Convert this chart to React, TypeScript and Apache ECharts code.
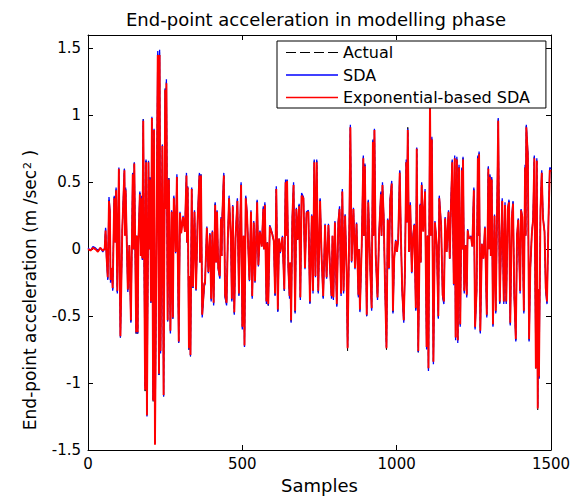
import React, { useEffect, useRef } from "react";
import * as echarts from "echarts";

const titleText = "End-point acceleration in modelling phase";
const xAxisName = "Samples";
const yAxisLabel = "{n|End-point acceleration (m /sec}{sup|2}{n| )}";
const legendNames = ["Actual", "SDA", "Exponential-based SDA"];
const xRange = [0, 1500];
const yRange = [-1.5, 1.6];

const samples = [
  0, 8, 16, 24, 32, 40, 48, 54, 57, 60, 64, 68, 71, 73, 77, 80, 85, 88, 91, 95,
  100, 105, 111, 118, 120, 122, 129, 134, 139, 145, 147, 150, 156, 158, 161, 163, 168, 171, 174, 176,
  179, 185, 188, 191, 196, 198, 201, 204, 207, 211, 214, 217, 221, 226, 230, 232, 235, 241, 245, 250,
  252, 254, 258, 262, 267, 271, 275, 278, 282, 284, 288, 294, 298, 302, 308, 314, 319, 321, 323, 327,
  329, 332, 336, 340, 345, 350, 355, 361, 363, 366, 370, 377,
  379, 385, 390, 395, 399, 403, 407, 412, 415, 418, 422, 427, 431, 433, 435, 440, 444, 449, 453, 457,
  463, 466, 469, 474, 478, 484, 489, 492, 496, 500, 504, 507, 511, 515, 520, 523, 528, 532, 537, 541,
  548, 552, 557, 563, 568, 570, 573, 578, 581, 584, 589, 593, 597, 602, 606, 610, 615, 619, 623, 630,
  636, 640, 642, 645, 649, 653, 655, 658, 662, 666, 671, 675, 679, 684, 688, 692, 698, 703, 708, 714,
  719, 725, 729, 733,
  737, 741, 746, 752, 757, 762, 768, 773, 779, 784, 789, 792, 795, 800, 806, 811, 815, 820, 824, 828,
  833, 838, 841, 847, 850, 854, 860, 865, 870, 876, 878, 881, 887, 892, 894, 897, 903, 908, 914, 919,
  923, 925, 928, 932, 938, 943, 949, 951, 954, 958, 962, 967, 971, 975, 979, 984, 988, 992, 997, 1001,
  1005, 1010, 1014, 1018, 1023, 1027, 1031, 1033, 1036, 1040, 1044, 1049, 1053, 1057, 1062,
  1065, 1070, 1076, 1078, 1081, 1086, 1092, 1097, 1100, 1103, 1108, 1111, 1114, 1119, 1124, 1130, 1135, 1138, 1144, 1149,
  1153, 1157, 1162, 1168, 1172, 1176, 1180, 1185, 1188, 1191, 1195, 1198, 1202, 1206, 1211, 1213, 1215, 1219, 1224, 1227,
  1230, 1234, 1241, 1245, 1250, 1254, 1259, 1263, 1265, 1267, 1271, 1276, 1281, 1286, 1292, 1297, 1299, 1302, 1305, 1308,
  1312, 1317, 1321, 1325, 1329, 1334, 1338, 1342, 1347, 1351, 1355, 1360, 1364, 1368, 1373, 1377, 1381, 1386, 1390, 1394,
  1400, 1403, 1407, 1412, 1416, 1418, 1420, 1425, 1429, 1433, 1438, 1442, 1446, 1451, 1454, 1457, 1459, 1461, 1466, 1470,
  1474, 1479, 1483, 1487, 1492, 1496, 1500,
];

const actual = [
  0, -0.01, 0.01, 0, -0.02, 0.01, -0.01, 0, 0.15, -0.05,
  -0.22, 0.37, 0.28, -0.24, -0.14, -0.3, 0.39, 0.05, 0.45, -0.32,
  0.6, -0.66, 0.14, 0.6, 0.1, 0.45, -0.31, 0.03, -0.54, 0.57,
  0.0, 0.65, -0.63, 0.1, -0.63, 0.03, 0.42, -0.05, 0.39, -0.07,
  0.97, -1.06, 0.66, -1.24, 0.65, 0.0, 0.53, -0.4, 0.98, -1.14,
  0.89, -1.46, -0.2, 1.46, -0.94, 1.47, -0.77, 0.78, -1.1, 1.2,
  0.3, 1.25, -0.54, 0.53, -0.62, 0.28, -0.52, 0.39, 0.17, -0.02,
  0.55, -0.7, 0.27, 0.12, 0.24, 0.13, 0.56, 0.05, 0.46, -0.75,
  -0.2, -0.8, 0.45, -0.29, 0.28, -0.31, 0.2, 0.56, -0.1, 0.56,
  -0.5, -0.25,
  -0.26, 0.16, -0.17, 0.11, -0.38, 0.13, -0.41, 0.34, -0.1, 0.28,
  -0.14, -0.21, 0.23, -0.05, 0.24, 0.56, -0.35, -0.41, 0.08, 0.39,
  0.08, -0.38, 0.32, -0.48, 0.08, 0.37, -0.34, 0.09, 0.49, -0.59,
  0.1, -0.73, 0.39, 0.27, -0.04, -0.23, 0.28, -0.36, 0.2, -0.24,
  0.36, -0.12, 0.13, 0.02, 0.31, 0.0, 0.34, -0.4, 0.05, -0.42,
  0.17, 0.14, 0.11, 0.06, -0.34, 0.46, -0.46, 0.08, -0.02, 0.09,
  -0.31, 0.51, 0.1, 0.52, -0.14, -0.36, -0.1, -0.54, 0.23, 0.49,
  -0.47, 0.3, 0.07, 0.33, -0.37, 0.41, 0.38, -0.14, 0.27, 0.28,
  -0.4, 0.25, -0.32, 0.66,
  -0.2, 0.66, -0.32, 0.37, -0.07, -0.36, 0.18, -0.21, 0.18, -0.14,
  -0.36, 0.1, -0.37, 0.2, -0.42, 0.2, 0.31, -0.34, 0.44, -0.32,
  0.25, -0.17, -0.76, 0.25, 0.92, -0.09, 0.3, -0.14, 0.19, -0.35,
  0.0, -0.46, 0.05, 0.69, 0.1, 0.63, -0.5, 0.36, -0.12, -0.45,
  0.81, 0.1, 0.9, -0.04, -0.37, 0.11, 0.42, 0.1, 0.49, 0.24,
  -0.24, -0.76, 0.22, -0.14, 0.37, 0.5, -0.47, -0.07, 0.06, -0.02,
  0.07, 0.58, 0.07, -0.32, -0.54, -0.14, 0.66, 0.2, 0.91, -0.02,
  0.34, -0.17, 0.09, 0.18, -0.45,
  0.75, -0.77, 0.33, -0.1, 0.49, 0.13, 0.44, -0.74, 0.1, -0.9,
  1.12, 0.1, 0.83, -0.85, 0.2, 0.03, -0.51, 0.39, 0.18, -0.35,
  -0.4, 0.23, -0.02, 0.28, -0.07, 0.34, 0.66, -0.26, 0.69, -0.67,
  0.68, -0.69, 0.62, -0.57, 0.6, 0.0, 0.68, -0.32, 0.03, -0.35,
  0.14, 0.08, 0.09, 0.02, 0.45, -0.59, -0.31, 0.69, 0.1, 0.72,
  -0.62, 0.04, -0.07, 0.16, -0.5, 0.61, 0.0, 0.55, -0.05, 0.53,
  -0.57, 0.25, -0.47, 0.22, 0.97, -0.4, 0.01, 0.37, -0.4, 0.34,
  -0.4, 0.3, 0.36, -0.56, 0.23, 0.35, -0.35, -0.68, 0.11, 0.22,
  -0.32, 0.29, 0.24, -0.47, 0.62, 0.1, 0.92, 0.71, -0.68, -0.14,
  0.12, 0.22, 0.69, -0.9, 0.67, -1.2, -0.3, -0.96, 0.3, 0.58,
  0.23, 0.13, -0.3, -0.4, 0.23, 0.6, 0.59,
];

const sda = [
  0.01, -0.01, 0.02, 0.01, -0.01, 0.01, -0.02, 0.01, 0.16, -0.06,
  -0.23, 0.39, 0.29, -0.25, -0.15, -0.31, 0.4, 0.05, 0.46, -0.33,
  0.61, -0.66, 0.15, 0.6, 0.1, 0.46, -0.32, 0.03, -0.55, 0.57,
  0.0, 0.65, -0.63, 0.1, -0.63, 0.04, 0.43, -0.05, 0.4, -0.08,
  0.97, -1.04, 0.67, -1.25, 0.66, 0.0, 0.54, -0.4, 0.99, -1.13,
  0.9, -1.45, -0.21, 1.48, -0.94, 1.49, -0.78, 0.78, -1.1, 1.2,
  0.3, 1.27, -0.54, 0.53, -0.63, 0.29, -0.52, 0.4, 0.18, -0.03,
  0.56, -0.7, 0.28, 0.13, 0.25, 0.14, 0.57, 0.05, 0.47, -0.75,
  -0.2, -0.8, 0.46, -0.29, 0.29, -0.31, 0.21, 0.57, -0.1, 0.56,
  -0.51, -0.26,
  -0.27, 0.17, -0.18, 0.12, -0.39, 0.14, -0.42, 0.35, -0.1, 0.29,
  -0.15, -0.22, 0.24, -0.05, 0.25, 0.57, -0.36, -0.42, 0.08, 0.4,
  0.08, -0.39, 0.33, -0.49, 0.09, 0.38, -0.35, 0.09, 0.5, -0.6,
  0.1, -0.73, 0.4, 0.28, -0.04, -0.24, 0.29, -0.37, 0.21, -0.25,
  0.37, -0.13, 0.14, 0.02, 0.32, 0.0, 0.35, -0.41, 0.05, -0.42,
  0.18, 0.15, 0.12, 0.06, -0.35, 0.47, -0.47, 0.08, -0.03, 0.1,
  -0.31, 0.52, 0.1, 0.52, -0.15, -0.37, -0.1, -0.55, 0.24, 0.5,
  -0.48, 0.31, 0.07, 0.34, -0.38, 0.42, 0.39, -0.15, 0.28, 0.29,
  -0.41, 0.26, -0.33, 0.67,
  -0.21, 0.67, -0.33, 0.38, -0.07, -0.37, 0.19, -0.22, 0.19, -0.15,
  -0.37, 0.1, -0.38, 0.21, -0.43, 0.21, 0.32, -0.35, 0.45, -0.33,
  0.26, -0.18, -0.73, 0.26, 0.93, -0.1, 0.31, -0.15, 0.2, -0.36,
  0.0, -0.47, 0.05, 0.7, 0.1, 0.64, -0.5, 0.37, -0.13, -0.46,
  0.82, 0.1, 0.9, -0.04, -0.38, 0.12, 0.43, 0.1, 0.5, 0.25,
  -0.25, -0.73, 0.23, -0.15, 0.38, 0.51, -0.48, -0.07, 0.07, -0.02,
  0.08, 0.59, 0.07, -0.33, -0.55, -0.15, 0.67, 0.2, 0.9, -0.02,
  0.35, -0.18, 0.1, 0.19, -0.46,
  0.76, -0.77, 0.34, -0.1, 0.5, 0.14, 0.45, -0.75, 0.1, -0.91,
  1.13, 0.1, 0.84, -0.86, 0.21, 0.03, -0.52, 0.4, 0.19, -0.36,
  -0.41, 0.24, -0.02, 0.29, -0.07, 0.35, 0.67, -0.27, 0.7, -0.68,
  0.69, -0.7, 0.63, -0.58, 0.61, 0.0, 0.69, -0.33, 0.03, -0.36,
  0.15, 0.08, 0.1, 0.02, 0.46, -0.6, -0.32, 0.7, 0.1, 0.73,
  -0.63, 0.04, -0.07, 0.17, -0.51, 0.62, 0.0, 0.56, -0.05, 0.54,
  -0.58, 0.26, -0.48, 0.23, 0.98, -0.41, 0.01, 0.38, -0.41, 0.35,
  -0.41, 0.31, 0.37, -0.57, 0.24, 0.36, -0.36, -0.69, 0.11, 0.23,
  -0.33, 0.3, 0.25, -0.48, 0.63, 0.1, 0.93, 0.72, -0.69, -0.15,
  0.13, 0.23, 0.7, -0.88, 0.68, -1.18, -0.3, -0.97, 0.31, 0.59,
  0.24, 0.14, -0.31, -0.41, 0.24, 0.61, 0.6,
];

const expSda = [
  0, -0.01, 0.01, 0, -0.02, 0.01, -0.01, 0, 0.14, -0.05,
  -0.21, 0.36, 0.28, -0.23, -0.14, -0.29, 0.38, 0.05, 0.44, -0.31,
  0.6, -0.65, 0.14, 0.59, 0.1, 0.44, -0.3, 0.03, -0.53, 0.56,
  0.0, 0.64, -0.62, 0.1, -0.62, 0.03, 0.41, -0.05, 0.38, -0.07,
  0.96, -1.05, 0.65, -1.24, 0.65, 0.0, 0.52, -0.39, 0.98, -1.13,
  0.89, -1.46, -0.2, 1.45, -0.93, 1.45, -0.76, 0.77, -1.09, 1.19,
  0.3, 1.24, -0.53, 0.52, -0.61, 0.28, -0.51, 0.38, 0.17, -0.02,
  0.54, -0.69, 0.27, 0.12, 0.24, 0.13, 0.55, 0.05, 0.46, -0.74,
  -0.2, -0.79, 0.45, -0.28, 0.28, -0.3, 0.2, 0.55, -0.1, 0.55,
  -0.49, -0.25,
  -0.26, 0.16, -0.17, 0.11, -0.37, 0.13, -0.4, 0.33, -0.1, 0.28,
  -0.14, -0.2, 0.23, -0.05, 0.24, 0.55, -0.34, -0.4, 0.08, 0.38,
  0.08, -0.37, 0.32, -0.47, 0.08, 0.36, -0.33, 0.09, 0.48, -0.58,
  0.1, -0.72, 0.38, 0.27, -0.04, -0.23, 0.28, -0.35, 0.2, -0.24,
  0.35, -0.12, 0.13, 0.02, 0.3, 0.0, 0.33, -0.39, 0.05, -0.41,
  0.17, 0.14, 0.11, 0.06, -0.33, 0.45, -0.45, 0.08, -0.02, 0.09,
  -0.3, 0.5, 0.1, 0.51, -0.14, -0.35, -0.1, -0.53, 0.23, 0.48,
  -0.46, 0.3, 0.07, 0.32, -0.36, 0.4, 0.38, -0.14, 0.27, 0.28,
  -0.39, 0.25, -0.31, 0.65,
  -0.2, 0.65, -0.31, 0.36, -0.07, -0.35, 0.18, -0.21, 0.18, -0.14,
  -0.35, 0.1, -0.36, 0.2, -0.41, 0.2, 0.3, -0.33, 0.43, -0.31,
  0.25, -0.17, -0.74, 0.25, 0.91, -0.09, 0.3, -0.14, 0.19, -0.34,
  0.0, -0.45, 0.05, 0.68, 0.1, 0.62, -0.49, 0.35, -0.12, -0.44,
  0.8, 0.1, 0.89, -0.04, -0.36, 0.11, 0.41, 0.1, 0.48, 0.24,
  -0.24, -0.74, 0.22, -0.14, 0.36, 0.49, -0.46, -0.07, 0.06, -0.02,
  0.07, 0.57, 0.07, -0.31, -0.53, -0.14, 0.65, 0.2, 0.89, -0.02,
  0.33, -0.17, 0.09, 0.18, -0.44,
  0.75, -0.76, 0.33, -0.1, 0.48, 0.13, 0.43, -0.73, 0.1, -0.89,
  1.12, 0.1, 0.82, -0.84, 0.2, 0.03, -0.5, 0.38, 0.18, -0.34,
  -0.39, 0.23, -0.02, 0.28, -0.07, 0.33, 0.65, -0.26, 0.68, -0.66,
  0.67, -0.68, 0.61, -0.56, 0.59, 0.0, 0.67, -0.31, 0.03, -0.34,
  0.14, 0.08, 0.09, 0.02, 0.44, -0.58, -0.31, 0.68, 0.1, 0.71,
  -0.61, 0.04, -0.07, 0.16, -0.49, 0.6, 0.0, 0.54, -0.05, 0.52,
  -0.56, 0.25, -0.46, 0.22, 0.96, -0.39, 0.01, 0.36, -0.39, 0.33,
  -0.39, 0.3, 0.35, -0.55, 0.23, 0.34, -0.34, -0.67, 0.11, 0.22,
  -0.31, 0.29, 0.24, -0.46, 0.61, 0.1, 0.91, 0.7, -0.67, -0.14,
  0.12, 0.22, 0.68, -0.89, 0.66, -1.19, -0.3, -0.95, 0.3, 0.57,
  0.23, 0.13, -0.29, -0.39, 0.23, 0.59, 0.58,
];

const FONT = "'DejaVu Sans', 'Liberation Sans', sans-serif";
const DASH_ICON = "path://M0 0h10v1H0zM14 0h10v1H14zM28 0h10v1H28zM42 0h10v1H42z";

export default function App() {
  const ref = useRef<HTMLDivElement>(null);

  useEffect(() => {
    if (!ref.current) return;
    const chart = echarts.init(ref.current, null, { renderer: "svg" });
    const toData = (vals: number[]) => samples.map((s, i) => [s, vals[i]]);

    const axisLine = { show: true, onZero: false, lineStyle: { color: "#000", width: 1 } };
    const axisTick = { show: true, inside: true, length: 5, lineStyle: { color: "#000", width: 1 } };
    const labelStyle = { color: "#000", fontFamily: FONT, fontSize: 15 };

    chart.setOption({
      animation: false,
      backgroundColor: "#fff",
      grid: { left: 88, top: 35, width: 463, height: 419, containLabel: false },
      xAxis: [
        {
          type: "value",
          position: "bottom",
          min: xRange[0],
          max: xRange[1],
          interval: 500,
          axisLine,
          axisTick,
          splitLine: { show: false },
          axisLabel: { ...labelStyle, margin: 6, formatter: (v: number) => String(v) },
          name: xAxisName,
          nameLocation: "middle",
          nameGap: 26,
          nameTextStyle: { color: "#000", fontFamily: FONT, fontSize: 18 },
        },
        {
          type: "value",
          position: "top",
          min: xRange[0],
          max: xRange[1],
          interval: 500,
          axisLine,
          axisTick,
          splitLine: { show: false },
          axisLabel: { show: false },
        },
      ],
      yAxis: [
        {
          type: "value",
          position: "left",
          min: yRange[0],
          max: yRange[1],
          interval: 0.5,
          axisLine,
          axisTick,
          splitLine: { show: false },
          axisLabel: {
            ...labelStyle,
            margin: 7,
            formatter: (v: number) => (v > 1.55 ? "" : String(Math.round(v * 10) / 10)),
          },
        },
        {
          type: "value",
          position: "right",
          min: yRange[0],
          max: yRange[1],
          interval: 0.5,
          axisLine,
          axisTick,
          splitLine: { show: false },
          axisLabel: { show: false },
        },
      ],
      legend: {
        data: [
          { name: legendNames[0], icon: DASH_ICON },
          { name: legendNames[1], icon: "rect" },
          { name: legendNames[2], icon: "rect" },
        ],
        orient: "vertical",
        left: 277,
        top: 41,
        itemWidth: 52,
        itemHeight: 1.3,
        itemGap: 6.5,
        padding: [3.5, 16, 2.5, 9],
        backgroundColor: "#fff",
        borderColor: "#000",
        borderWidth: 1,
        borderRadius: 0,
        selectedMode: false,
        textStyle: { color: "#000", fontFamily: FONT, fontSize: 16, lineHeight: 15 },
      },
      graphic: [
        {
          type: "text",
          x: 316,
          y: 19,
          style: {
            text: titleText,
            fill: "#000",
            fontFamily: FONT,
            fontSize: 18,
            align: "center",
            verticalAlign: "middle",
          },
        },
        {
          type: "text",
          x: 30,
          y: 290,
          rotation: Math.PI / 2,
          style: {
            text: yAxisLabel,
            fill: "#000",
            fontFamily: FONT,
            fontSize: 17,
            align: "center",
            verticalAlign: "middle",
            rich: {
              n: { fontFamily: FONT, fontSize: 17, lineHeight: 17, verticalAlign: "bottom", fill: "#000" },
              sup: { fontFamily: FONT, fontSize: 11, lineHeight: 11, verticalAlign: "top", padding: [0, 0, 10, 1], fill: "#000" },
            },
          },
        },
      ],
      series: [
        {
          name: legendNames[0],
          type: "line",
          data: toData(actual),
          showSymbol: false,
          symbol: "none",
          lineStyle: { color: "#000", width: 1, type: [4, 3] },
          itemStyle: { color: "#000" },
        },
        {
          name: legendNames[1],
          type: "line",
          data: toData(sda),
          showSymbol: false,
          symbol: "none",
          lineStyle: { color: "#0000ff", width: 1.3 },
          itemStyle: { color: "#0000ff" },
        },
        {
          name: legendNames[2],
          type: "line",
          data: toData(expSda),
          showSymbol: false,
          symbol: "none",
          lineStyle: { color: "#ff0000", width: 1.9 },
          itemStyle: { color: "#ff0000" },
        },
      ],
    });

    return () => chart.dispose();
  }, []);

  return (
    <div
      ref={ref}
      style={{ position: "absolute", left: 0, top: 0, width: 576, height: 499 }}
    />
  );
}
